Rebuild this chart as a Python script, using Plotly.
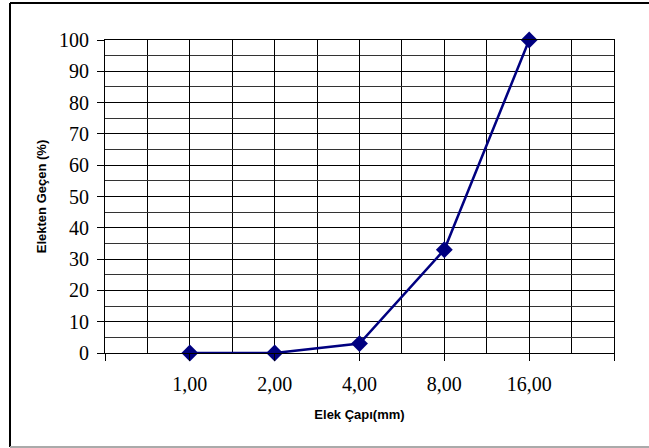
import plotly.graph_objects as go

categories = ["1,00", "2,00", "4,00", "8,00", "16,00"]
passing = [0, 0, 3, 33, 100]
y_ticks = [0, 10, 20, 30, 40, 50, 60, 70, 80, 90, 100]

xpos = list(range(1, len(categories) + 1))

SERIF = "Liberation Serif"
SANS = "Liberation Sans"

fig = go.Figure()
fig.add_trace(go.Scatter(
    x=xpos, y=passing, mode="lines+markers",
    line=dict(color="#000080", width=2.5),
    marker=dict(symbol="diamond", size=13, color="#000080"),
    cliponaxis=False, showlegend=False,
))

L, R, T, B = 105, 35, 40, 95
W, H = 649, 448
pw, ph = W - L - R, H - T - B

fig.update_layout(
    width=W, height=H,
    margin=dict(l=L, r=R, t=T, b=B),
    paper_bgcolor="white", plot_bgcolor="white",
    font=dict(family=SERIF, color="black"),
    xaxis=dict(
        range=[0, len(categories) + 1],
        tickvals=list(range(0, len(categories) + 2)),
        ticktext=[""] + categories + [""],
        ticks="outside", ticklen=7, tickcolor="black",
        ticklabelstandoff=6,
        showgrid=True, gridcolor="black", gridwidth=1,
        minor=dict(dtick=0.5, showgrid=True, gridcolor="black", gridwidth=1),
        showline=True, linecolor="black", linewidth=1, mirror=True,
        tickfont=dict(family=SERIF, size=20, color="black"),
        title=dict(text="<b>Elek Çapı(mm)</b>",
                   font=dict(family=SANS, size=13, color="black"),
                   standoff=15),
        zeroline=False,
    ),
    yaxis=dict(
        range=[0, 100],
        tickvals=y_ticks,
        ticks="outside", ticklen=7, tickcolor="black",
        ticklabelstandoff=4,
        showgrid=True, gridcolor="black", gridwidth=1,
        minor=dict(dtick=5, showgrid=True, gridcolor="#333", gridwidth=1),
        showline=True, linecolor="black", linewidth=1, mirror=True,
        tickfont=dict(family=SERIF, size=20, color="black"),
        title=dict(text="<b>Elekten Geçen (%)</b>",
                   font=dict(family=SANS, size=13, color="black"),
                   standoff=9),
        zeroline=False,
    ),
)

# outer chart frame (partly cropped on the right in the reference)
x0 = (10 - L) / pw
x1 = (652 - L) / pw
y1 = 1 + (T - 3) / ph
y0 = -(447 - (H - B)) / ph
fig.add_shape(type="line", xref="paper", yref="paper", x0=x0, x1=x0, y0=y0, y1=y1,
              line=dict(color="black", width=2))
fig.add_shape(type="line", xref="paper", yref="paper", x0=x0, x1=x1, y0=y1, y1=y1,
              line=dict(color="black", width=2))
fig.add_shape(type="line", xref="paper", yref="paper", x0=x0, x1=x1, y0=y0, y1=y0,
              line=dict(color="#aaaaaa", width=2))

fig.write_html("out.html")
